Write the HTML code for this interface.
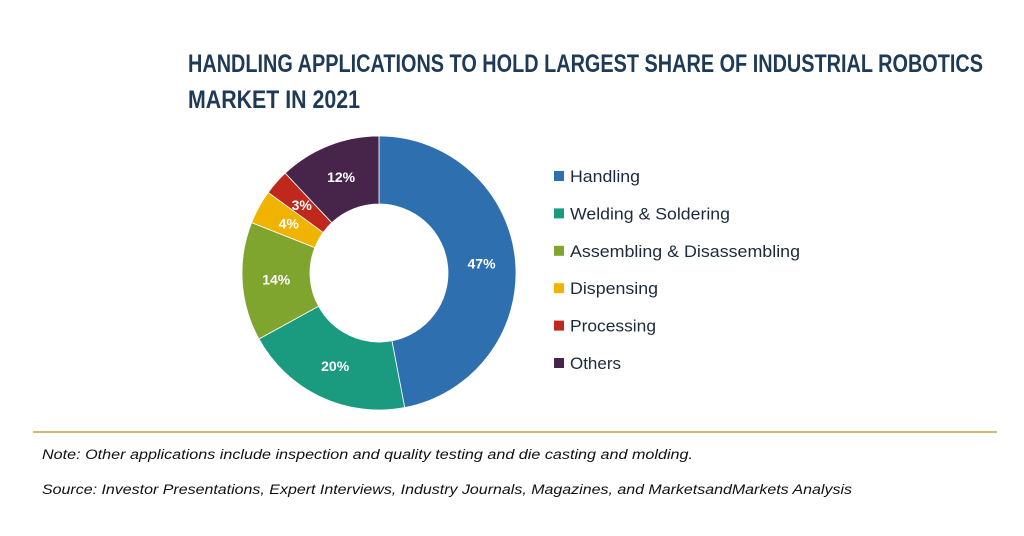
<!DOCTYPE html>
<html><head><meta charset="utf-8"><style>
html,body{margin:0;padding:0;background:#fff;}
svg{display:block;}
</style></head><body>
<svg id="chart" width="1024" height="536" viewBox="0 0 1024 536" xmlns="http://www.w3.org/2000/svg">
<g font-family="'Liberation Sans', sans-serif" font-weight="bold" font-size="25" fill="#1f3a56">
<text x="188" y="72" textLength="795" lengthAdjust="spacingAndGlyphs">HANDLING APPLICATIONS TO HOLD LARGEST SHARE OF INDUSTRIAL ROBOTICS</text>
<text x="188" y="108" textLength="172" lengthAdjust="spacingAndGlyphs">MARKET IN 2021</text>
</g>
<g id="slices"></g>
<g id="labels" font-family="'Liberation Sans', sans-serif" font-weight="bold" font-size="14" fill="#fff" text-anchor="middle"></g>
<g id="legend" font-family="'Liberation Sans', sans-serif" font-size="17" fill="#1c2a3a"></g>
<line x1="33" y1="432" x2="997" y2="432" stroke="#c9a23a" stroke-width="1.5"/>
<g font-family="'Liberation Sans', sans-serif" font-style="italic" font-size="13.5" fill="#111">
<text x="42" y="459" textLength="651" lengthAdjust="spacingAndGlyphs">Note: Other applications include inspection and quality testing and die casting and molding.</text>
<text x="42" y="494" textLength="810" lengthAdjust="spacingAndGlyphs">Source: Investor Presentations, Expert Interviews, Industry Journals, Magazines, and MarketsandMarkets Analysis</text>
</g>
</svg>
<script>
const categories = ["Handling","Welding & Soldering","Assembling & Disassembling","Dispensing","Processing","Others"];
const shares = [47,20,14,4,3,12];
const valueLabels = ["47%","20%","14%","4%","3%","12%"];
const colors = ["#2e6fb0","#1a9a7e","#7fa52f","#f0b400","#c0281e","#47254b"];
const legendWidths = [70,160,230,88,86,51];
const NS="http://www.w3.org/2000/svg";
const cx=379, cy=273, rO=137, rI=69;
const total=shares.reduce((a,b)=>a+b,0);
function pt(r,frac){const a=frac*2*Math.PI;return [cx+r*Math.sin(a), cy-r*Math.cos(a)];}
const gS=document.getElementById('slices'), gL=document.getElementById('labels'), gLeg=document.getElementById('legend');
let acc=0;
shares.forEach((v,i)=>{
  const f0=acc/total, f1=(acc+v)/total; acc+=v;
  const large=(f1-f0)>0.5?1:0;
  const [x0,y0]=pt(rO,f0),[x1,y1]=pt(rO,f1),[x2,y2]=pt(rI,f1),[x3,y3]=pt(rI,f0);
  const p=document.createElementNS(NS,'path');
  p.setAttribute('d',`M${x0},${y0}A${rO},${rO} 0 ${large} 1 ${x1},${y1}L${x2},${y2}A${rI},${rI} 0 ${large} 0 ${x3},${y3}Z`);
  p.setAttribute('fill',colors[i]);
  p.setAttribute('stroke','#fff');p.setAttribute('stroke-width','0.8');
  
  
  gS.appendChild(p);
  const [lx,ly]=pt((rO+rI)/2,(f0+f1)/2);
  const t=document.createElementNS(NS,'text');
  t.setAttribute('x',lx);t.setAttribute('y',ly+5);
  t.textContent=valueLabels[i];
  
  
  gL.appendChild(t);
  const y=171+i*37.4;
  const r=document.createElementNS(NS,'rect');
  r.setAttribute('x',554);r.setAttribute('y',y);r.setAttribute('width',10);r.setAttribute('height',10);r.setAttribute('fill',colors[i]);
  
  
  gLeg.appendChild(r);
  const lt=document.createElementNS(NS,'text');
  lt.setAttribute('x',570);lt.setAttribute('y',y+11);
  lt.setAttribute('textLength',legendWidths[i]);
  lt.setAttribute('lengthAdjust','spacingAndGlyphs');
  lt.textContent=categories[i];
  
  
  gLeg.appendChild(lt);
});
</script>
</body></html>
